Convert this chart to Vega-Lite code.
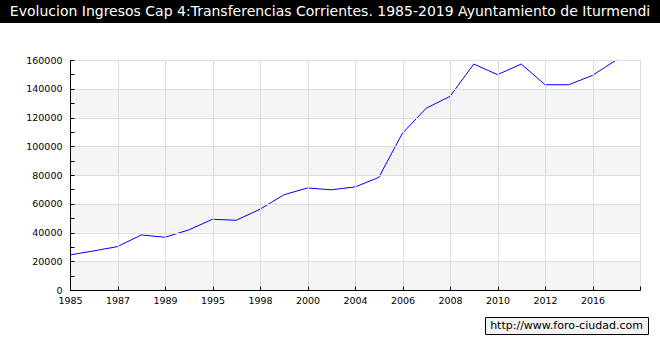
{
  "$schema": "https://vega.github.io/schema/vega-lite/v6.json",
  "background": "white",
  "padding": 0,
  "config": {"font": "DejaVu Sans"},
  "spacing": 32,
  "vconcat": [
    {
      "width": 660,
      "height": 23,
      "data": {"values": [{}]},
      "view": {"fill": "black", "stroke": null},
      "mark": {"type": "text", "color": "white", "fontSize": 14, "font": "DejaVu Sans", "align": "center", "baseline": "middle"},
      "encoding": {"text": {"datum": "Evolucion Ingresos Cap 4:Transferencias Corrientes. 1985-2019 Ayuntamiento de Iturmendi"}}
    },
    {
      "spacing": 11,
      "vconcat": [
        {
          "width": 640,
          "height": 230,
          "view": {"stroke": null},
          "layer": [
            {
              "data": {"values": [
                {"lo": 0, "hi": 20000},
                {"lo": 40000, "hi": 60000},
                {"lo": 80000, "hi": 100000},
                {"lo": 120000, "hi": 140000}
              ]},
              "mark": {"type": "rect", "color": "#f4f4f4"},
              "encoding": {
                "x": {"datum": "1985", "type": "ordinal"},
                "x2": {"datum": "2019"},
                "y": {"field": "lo", "type": "quantitative"},
                "y2": {"field": "hi"}
              }
            },
            {
              "data": {"values": [
                {"year": "1985", "value": 24400},
                {"year": "1986", "value": 27200},
                {"year": "1987", "value": 30200},
                {"year": "1988", "value": 38300},
                {"year": "1989", "value": 36700},
                {"year": "1990", "value": 41800},
                {"year": "1995", "value": 49200},
                {"year": "1996", "value": 48500},
                {"year": "1998", "value": 56200},
                {"year": "1999", "value": 66200},
                {"year": "2000", "value": 71000},
                {"year": "2003", "value": 69700},
                {"year": "2004", "value": 71700},
                {"year": "2005", "value": 78300},
                {"year": "2006", "value": 109100},
                {"year": "2007", "value": 126500},
                {"year": "2008", "value": 134700},
                {"year": "2009", "value": 157200},
                {"year": "2010", "value": 149800},
                {"year": "2011", "value": 157200},
                {"year": "2012", "value": 142800},
                {"year": "2014", "value": 142800},
                {"year": "2016", "value": 149300},
                {"year": "2017", "value": 160000}
              ]},
              "mark": {"type": "line", "color": "#0000ff", "strokeWidth": 1},
              "encoding": {
                "x": {
                  "field": "year",
                  "type": "ordinal",
                  "sort": null,
                  "scale": {"type": "point", "padding": 0, "range": [70, 640], "domain": ["1985","1986","1987","1988","1989","1990","1995","1996","1998","1999","2000","2003","2004","2005","2006","2007","2008","2009","2010","2011","2012","2014","2016","2017","2019"]},
                  "axis": {
                    "title": null,
                    "values": ["1985","1987","1989","1995","1998","2000","2004","2006","2008","2010","2012","2016","2019"],
                    "labelExpr": "datum.value == '2019' ? '' : datum.label",
                    "labelOverlap": false,
                    "labelFlush": false,
                    "labelAlign": "center",
                    "labelBound": false,
                    "labelAngle": 0,
                    "labelFontSize": 9.5,
                    "labelColor": "black",
                    "labelPadding": 14,
                    "tickSize": -4,
                    "tickColor": "black",
                    "domainColor": "black",
                    "grid": true,
                    "gridColor": "#dddddd",
                    "zindex": 1
                  }
                },
                "y": {
                  "field": "value",
                  "type": "quantitative",
                  "scale": {"domain": [0, 160000], "nice": false, "zero": true},
                  "axis": {
                    "title": null,
                    "offset": -70,
                    "values": [0,10000,20000,30000,40000,50000,60000,70000,80000,90000,100000,110000,120000,130000,140000,150000,160000],
                    "tickCount": 40,
                    "labelExpr": "datum.value % 20000 == 0 ? datum.label : ''",
                    "labelOverlap": false,
                    "format": "d",
                    "labelFontSize": 9.5,
                    "labelColor": "black",
                    "labelPadding": 12,
                    "tickSize": -4,
                    "tickColor": "black",
                    "domainColor": "black",
                    "grid": true,
                    "gridColor": "#dddddd",
                    "gridOpacity": {"condition": {"test": "datum.value % 20000 != 0", "value": 0}, "value": 1},
                    "zindex": 1
                  }
                }
              }
            }
          ]
        },
        {
          "spacing": 0,
          "hconcat": [
            {
              "width": 484,
              "height": 17,
              "data": {"values": [{}]},
              "view": {"stroke": null},
              "mark": {"type": "text"},
              "encoding": {"text": {"datum": " "}}
            },
            {
              "width": 163,
              "height": 17,
              "data": {"values": [{}]},
              "view": {"fill": "#f2f2f2", "stroke": "black", "strokeWidth": 1},
              "mark": {"type": "text", "color": "black", "fontSize": 11, "font": "DejaVu Sans", "align": "center", "baseline": "middle"},
              "encoding": {"text": {"datum": "http://www.foro-ciudad.com"}}
            }
          ]
        }
      ]
    }
  ]
}
